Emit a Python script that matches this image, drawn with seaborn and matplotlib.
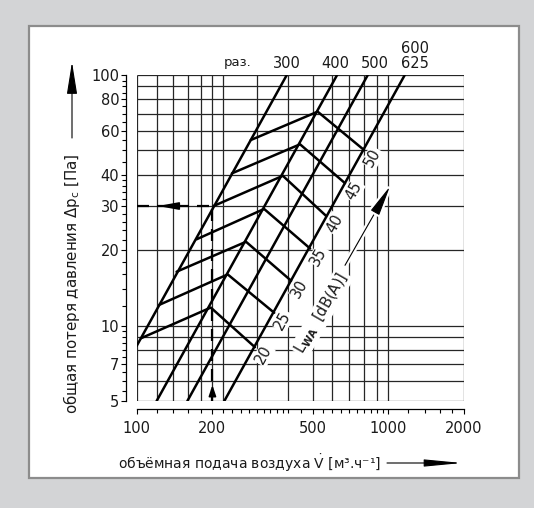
import numpy as np
import pandas as pd
import seaborn as sns
import matplotlib.pyplot as plt
import matplotlib.patheffects as pe
from matplotlib.patches import Rectangle
from matplotlib.ticker import NullFormatter

# fan size lines (straight in log-log), flow in m3/h, pressure in Pa
sizes = ["300", "400", "500", "600\n625"]
size_q = [[100, 395], [120, 626], [159, 829], [223, 1163]]
size_p = [[8.3, 100], [5, 100], [5, 100], [5, 100]]
size_label_q = [396, 615, 886, 1278]

# sound power zigzags: start on 300, apex on 400, end on 600/625
noise_levels = ["20", "25", "30", "35", "40", "45", "50"]
noise_q = [[104, 197, 295], [123, 230, 352], [144, 272, 411], [173, 321, 489],
           [202, 381, 566], [239, 446, 673], [284, 524, 801]]
noise_p = [[8.9, 11.8, 8.2], [12.1, 16.0, 11.25], [16.4, 21.6, 15.1], [22.1, 29.2, 20.3],
           [30.0, 39.6, 27.4], [40.5, 52.9, 37.0], [55.0, 71.4, 50.2]]

# example operating point
op_q = 200
op_p = 30

x_ticks = [100, 200, 500, 1000, 2000]
x_minor = [120, 140, 160, 180, 220, 240, 260, 280, 300, 320, 340, 360, 380, 400, 450,
           550, 600, 650, 700, 750, 800, 850, 900, 950, 1200, 1400, 1600, 1800]
y_ticks = [5, 7, 10, 20, 30, 40, 60, 80, 100]
y_minor = [5.5, 6, 6.5, 7.5, 8, 8.5, 9, 9.5, 12, 14, 16, 18, 22, 24, 26, 28,
           32, 34, 36, 38, 45, 50, 55, 65, 70, 75, 85, 90, 95]
grid_x = [100, 120, 140, 160, 180, 200, 220, 300, 400, 500, 600, 700, 800, 900, 1000, 2000]
grid_y = [5, 6, 7, 8, 9, 10, 20, 30, 40, 50, 60, 70, 80, 90, 100]

sns.set_theme(style="white")
plt.rcParams["font.family"] = ["DejaVu Sans"]
plt.rcParams["mathtext.fontset"] = "dejavusans"
plt.rcParams["text.color"] = "#1a1a1a"
plt.rcParams["xtick.labelcolor"] = "#1a1a1a"
plt.rcParams["ytick.labelcolor"] = "#1a1a1a"
plt.rcParams["axes.labelcolor"] = "#1a1a1a"

W, H = 534, 508


def px(x, y):
    return (x / W, 1 - y / H)


def arrow(ax, tip, base, coords, hl, hw, lw=1.0, **kw):
    ax.annotate("", xy=tip, xytext=base, xycoords=coords, textcoords=coords,
                annotation_clip=False,
                arrowprops=dict(arrowstyle=f"-|>,head_length={hl},head_width={hw}",
                                color="black", lw=lw, shrinkA=0, shrinkB=0,
                                mutation_scale=1, **kw))


fig = plt.figure(figsize=(W / 100, H / 100), dpi=100, facecolor="#d3d4d6")
fig.add_artist(Rectangle(px(29, 478), (519 - 29) / W, (478 - 26) / H,
                         transform=fig.transFigure, facecolor="white",
                         edgecolor="#8c8c8c", lw=1.6, zorder=0))

ax = fig.add_axes([136.7 / W, 1 - 401 / H, (464 - 136.7) / W, (401 - 75) / H])
ax.set_facecolor("white")

rows = []
for name, qs, ps in zip(sizes, size_q, size_p):
    for q, p in zip(qs, ps):
        rows.append(("size " + name, q, p))
for lvl, qs, ps in zip(noise_levels, noise_q, noise_p):
    for q, p in zip(qs, ps):
        rows.append(("noise " + lvl, q, p))
df = pd.DataFrame(rows, columns=["curve", "q", "p"])

ax.vlines(grid_x, 5, 100, color="#262626", lw=0.9, zorder=1)
ax.hlines(grid_y, 100, 2000, color="#262626", lw=0.9, zorder=1)

sns.lineplot(data=df, x="q", y="p", units="curve", estimator=None, sort=False,
             color="black", lw=1.8, ax=ax, legend=False, zorder=3)

ax.set_xscale("log")
ax.set_yscale("log")
ax.set_xlim(100, 2000)
ax.set_ylim(5, 100)

# dashed reading example
ax.plot([op_q, op_q], [5, op_p], color="black", lw=1.6, ls=(0, (5.4, 3.6)), zorder=3)
ax.plot([100, op_q], [op_p, op_p], color="black", lw=1.6, ls=(0, (5.4, 3.6)), zorder=3)
arrow(ax, (op_q, 5.79), (op_q, 5.37), "data", 6.5, 2.2, lw=1.2)
arrow(ax, (121.5, op_p), (142, op_p), "data", 12, 2.2, lw=1.2)

# size labels on top
ax.annotate("раз.", xy=(253, 100), xytext=(0, 4), textcoords="offset points",
            ha="center", va="bottom", fontsize=9.5, annotation_clip=False)
for name, q in zip(sizes, size_label_q):
    ax.annotate(name, xy=(q, 100), xytext=(0, 3), textcoords="offset points",
                ha="center", va="bottom", fontsize=10.5, linespacing=0.95,
                annotation_clip=False)

# noise level labels
for lvl, qs, ps in zip(noise_levels, noise_q, noise_p):
    ax.annotate(lvl, xy=(qs[-1], ps[-1]), xytext=(6.3, -5.6), textcoords="offset points",
                ha="center", va="center", rotation=61, fontsize=10.5, zorder=2,
                bbox=dict(facecolor="white", edgecolor="none", pad=0.5))

ax.text(543, 11.2, "L$_{\\mathbf{WA}}$  [dB(A)]", rotation=60, ha="center", va="center",
        fontsize=10.5, zorder=2, bbox=dict(facecolor="white", edgecolor="none", pad=1))
arrow(ax, (1017, 36.0), (673, 17.4), "data", 19, 3.0, lw=0.8,
      path_effects=[pe.withStroke(linewidth=4, foreground="white")])

# axes, ticks
sns.despine(ax=ax, offset={"left": 7.7, "bottom": 5.8})
ax.spines["left"].set_color("black")
ax.spines["bottom"].set_color("black")
ax.spines["left"].set_linewidth(0.9)
ax.spines["bottom"].set_linewidth(0.9)
ax.set_xticks(x_ticks)
ax.set_xticklabels([str(v) for v in x_ticks])
ax.set_xticks(x_minor, minor=True)
ax.set_yticks(y_ticks)
ax.set_yticklabels([str(v) for v in y_ticks])
ax.set_yticks(y_minor, minor=True)
ax.xaxis.set_minor_formatter(NullFormatter())
ax.yaxis.set_minor_formatter(NullFormatter())
ax.tick_params(which="both", direction="out", color="black", width=0.8,
               labelsize=10.5, left=True, bottom=True)
ax.tick_params(which="major", length=3.8)
ax.tick_params(which="minor", length=3.0)
ax.tick_params(axis="x", pad=4.5)
ax.tick_params(axis="y", pad=1)

ax.set_xlabel("объёмная подача воздуха $\\dot{\\mathregular{V}}$ [м³.ч⁻¹]",
              ha="left", va="center", fontsize=10.0)
ax.xaxis.set_label_coords((118 - 136.7) / 327.3, (401 - 463) / 326)
ax.set_ylabel("общая потеря давления Δp$_{\\mathregular{c}}$ [Па]",
              ha="center", va="center", fontsize=10.8)
ax.yaxis.set_label_coords((72 - 136.7) / 327.3, (401 - 284) / 326)

arrow(ax, px(72, 62), px(72, 138), "figure fraction", 20, 3.2, lw=0.8)
arrow(ax, px(462, 463), px(387, 463), "figure fraction", 23, 2.2, lw=0.8)

fig.savefig("out.png", dpi=100, facecolor=fig.get_facecolor())
